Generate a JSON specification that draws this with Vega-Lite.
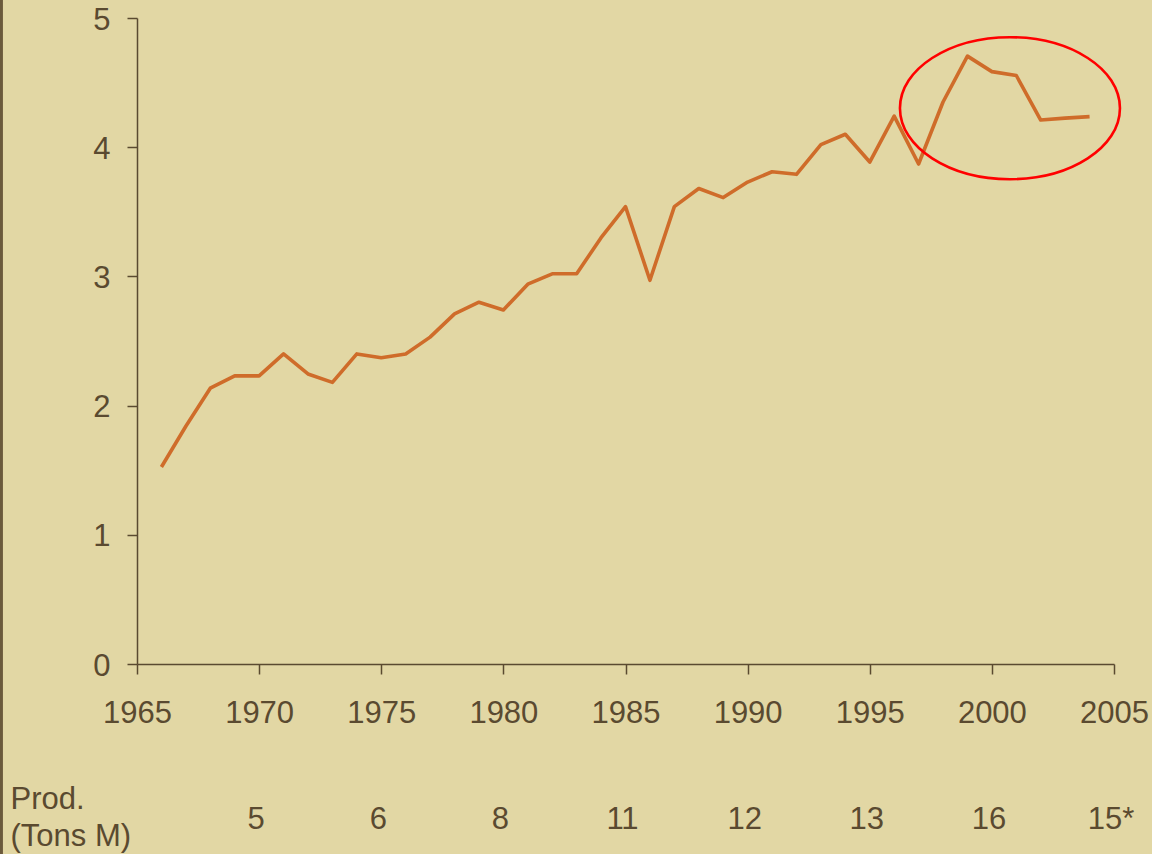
{
  "$schema": "https://vega.github.io/schema/vega-lite/v6.json",
  "autosize": {"type": "none"},
  "width": 977,
  "height": 646,
  "padding": {"left": 137, "top": 18, "right": 38, "bottom": 190},
  "background": "#E2D7A4",
  "config": {
    "view": {"stroke": null},
    "font": "Liberation Sans",
    "axis": {
      "labelFont": "Liberation Sans",
      "labelFontSize": 31,
      "labelColor": "#5A4A30",
      "domainColor": "#5A4A30",
      "tickColor": "#5A4A30",
      "domainWidth": 1.5,
      "tickWidth": 1.5,
      "tickSize": 10,
      "grid": false,
      "title": null
    }
  },
  "datasets": {
    "series": [
      {"year": 1966, "value": 1.525},
      {"year": 1967, "value": 1.84},
      {"year": 1968, "value": 2.135},
      {"year": 1969, "value": 2.23},
      {"year": 1970, "value": 2.23},
      {"year": 1971, "value": 2.40},
      {"year": 1972, "value": 2.245},
      {"year": 1973, "value": 2.18},
      {"year": 1974, "value": 2.40},
      {"year": 1975, "value": 2.37},
      {"year": 1976, "value": 2.40},
      {"year": 1977, "value": 2.53},
      {"year": 1978, "value": 2.71},
      {"year": 1979, "value": 2.80},
      {"year": 1980, "value": 2.74},
      {"year": 1981, "value": 2.94},
      {"year": 1982, "value": 3.02},
      {"year": 1983, "value": 3.02},
      {"year": 1984, "value": 3.30},
      {"year": 1985, "value": 3.54},
      {"year": 1986, "value": 2.97},
      {"year": 1987, "value": 3.54},
      {"year": 1988, "value": 3.68},
      {"year": 1989, "value": 3.61},
      {"year": 1990, "value": 3.73},
      {"year": 1991, "value": 3.81},
      {"year": 1992, "value": 3.79},
      {"year": 1993, "value": 4.02},
      {"year": 1994, "value": 4.10},
      {"year": 1995, "value": 3.885},
      {"year": 1996, "value": 4.24},
      {"year": 1997, "value": 3.87},
      {"year": 1998, "value": 4.35},
      {"year": 1999, "value": 4.705},
      {"year": 2000, "value": 4.585},
      {"year": 2001, "value": 4.555},
      {"year": 2002, "value": 4.21},
      {"year": 2003, "value": 4.225},
      {"year": 2004, "value": 4.237}
    ],
    "prod": [
      {"year": 1970, "row": -1.277, "prod": "5"},
      {"year": 1975, "row": -1.277, "prod": "6"},
      {"year": 1980, "row": -1.277, "prod": "8"},
      {"year": 1985, "row": -1.277, "prod": "11"},
      {"year": 1990, "row": -1.277, "prod": "12"},
      {"year": 1995, "row": -1.277, "prod": "13"},
      {"year": 2000, "row": -1.277, "prod": "16"},
      {"year": 2005, "row": -1.277, "prod": "15*"}
    ],
    "rowlabel": [
      {"year": 1959.82, "row": -1.125, "label": "Prod.\n(Tons M)"}
    ],
    "annot": [
      {"year": 2000.74, "value": 4.302}
    ],
    "edge": [
      {"year": 1959.45, "top": 5.14, "bottom": -1.47}
    ]
  },
  "layer": [
    {
      "data": {"name": "edge"},
      "mark": {"type": "rule", "color": "#6B5A3C", "strokeWidth": 3},
      "encoding": {
        "x": {"field": "year", "type": "quantitative", "scale": {"domain": [1965, 2005], "nice": false, "zero": false}},
        "y": {"field": "top", "type": "quantitative", "scale": {"domain": [0, 5], "nice": false}},
        "y2": {"field": "bottom"}
      }
    },
    {
      "data": {"name": "series"},
      "mark": {"type": "line", "color": "#CF6C2A", "strokeWidth": 3.6, "strokeJoin": "round"},
      "encoding": {
        "x": {
          "field": "year", "type": "quantitative",
          "scale": {"domain": [1965, 2005], "nice": false, "zero": false},
          "axis": {"values": [1965, 1970, 1975, 1980, 1985, 1990, 1995, 2000, 2005], "format": "d", "labelPadding": 24, "labelFlush": false, "labelOverlap": false}
        },
        "y": {
          "field": "value", "type": "quantitative",
          "scale": {"domain": [0, 5], "nice": false},
          "axis": {"values": [0, 1, 2, 3, 4, 5], "format": "d", "labelPadding": 17, "labelOffset": 2, "labelFlush": false}
        }
      }
    },
    {
      "data": {"name": "annot"},
      "mark": {
        "type": "point",
        "shape": "M 1 0 C 1 0.3565 0.5523 0.6455 0 0.6455 C -0.5523 0.6455 -1 0.3565 -1 0 C -1 -0.3565 -0.5523 -0.6455 0 -0.6455 C 0.5523 -0.6455 1 -0.3565 1 0 Z",
        "size": 48400,
        "filled": false,
        "stroke": "#FF0000",
        "strokeWidth": 2.6,
        "opacity": 1
      },
      "encoding": {
        "x": {"field": "year", "type": "quantitative"},
        "y": {"field": "value", "type": "quantitative"}
      }
    },
    {
      "data": {"name": "prod"},
      "mark": {"type": "text", "font": "Liberation Sans", "fontSize": 31, "color": "#5A4A30", "align": "center", "baseline": "alphabetic", "dx": -3},
      "encoding": {
        "x": {"field": "year", "type": "quantitative"},
        "y": {"field": "row", "type": "quantitative"},
        "text": {"field": "prod"}
      }
    },
    {
      "data": {"name": "rowlabel"},
      "mark": {"type": "text", "font": "Liberation Sans", "fontSize": 31, "color": "#5A4A30", "align": "left", "baseline": "alphabetic", "lineBreak": "\n", "lineHeight": 37},
      "encoding": {
        "x": {"field": "year", "type": "quantitative"},
        "y": {"field": "row", "type": "quantitative"},
        "text": {"field": "label"}
      }
    }
  ]
}
